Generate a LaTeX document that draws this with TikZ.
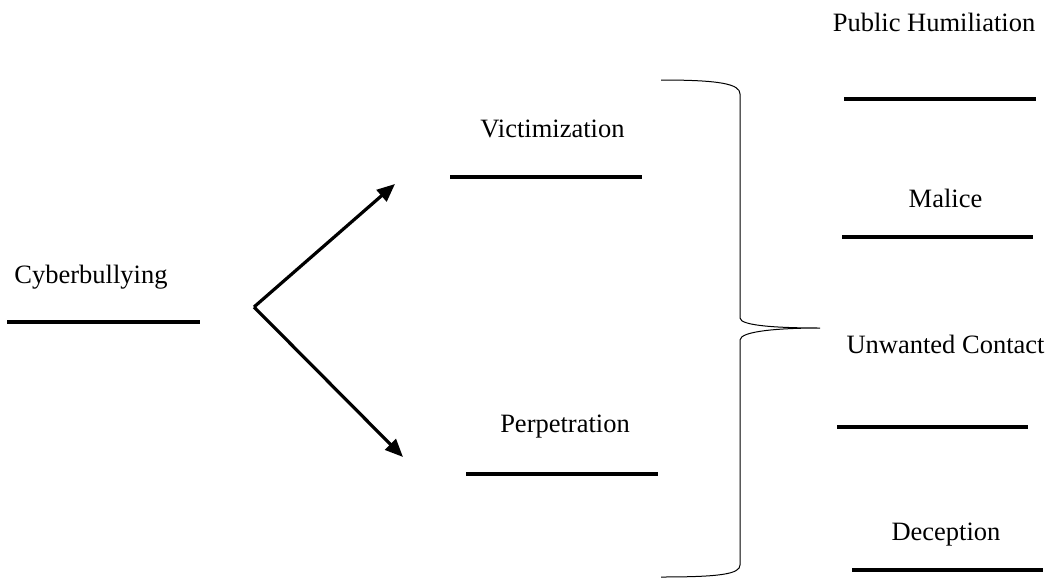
\documentclass[tikz,border=0pt]{standalone}
\usepackage{fontspec}
\setmainfont{Liberation Serif}
\usetikzlibrary{arrows.meta}
\begin{document}
\begin{tikzpicture}[x=1pt,y=-1pt,
  lbl/.style={anchor=base,inner sep=0pt,font=\fontsize{26.5}{30}\selectfont},
  bar/.style={line width=3.2pt},
  arr/.style={line width=3.2pt,-{Triangle[length=18pt,width=15pt]}},
  brace/.style={line width=1pt}]
\useasboundingbox (0,0) rectangle (1048,578);
% labels
\node[lbl] (cyb) at (91,283) {Cyberbullying};
\node[lbl] (vic) at (552.5,137) {Victimization};
\node[lbl] (per) at (565,432) {Perpetration};
\node[lbl] (pub) at (934,32) {Public Humiliation};
\node[lbl] (mal) at (945.5,207) {Malice};
\node[lbl] (unw) at (945.5,353) {Unwanted Contact};
\node[lbl] (dec) at (946,540) {Deception};
% blank lines
\draw[bar] (7,322) -- (200,322);
\draw[bar] (450,177) -- (642,177);
\draw[bar] (466,474) -- (658,474);
\draw[bar] (844,99) -- (1036,99);
\draw[bar] (842,237) -- (1033,237);
\draw[bar] (837,427) -- (1028,427);
\draw[bar] (852,570) -- (1043,570);
% arrows
\coordinate (fork) at (254,307);
\coordinate (up) at (395,184);
\coordinate (down) at (403,457);
\draw[arr] (fork) -- (up);
\draw[arr] (fork) -- (down);
% brace
\coordinate (btop) at (661,80);
\coordinate (btip) at (820,328);
\coordinate (bbot) at (661,577);
\draw[brace] (btop) .. controls (720,80) and (740,84) .. (740,94)
  -- (740,318) .. controls (740,326) and (780,328) .. (btip)
  .. controls (780,328) and (740,331) .. (740,340)
  -- (740,565) .. controls (740,574) and (720,577) .. (bbot);
\end{tikzpicture}
\end{document}
